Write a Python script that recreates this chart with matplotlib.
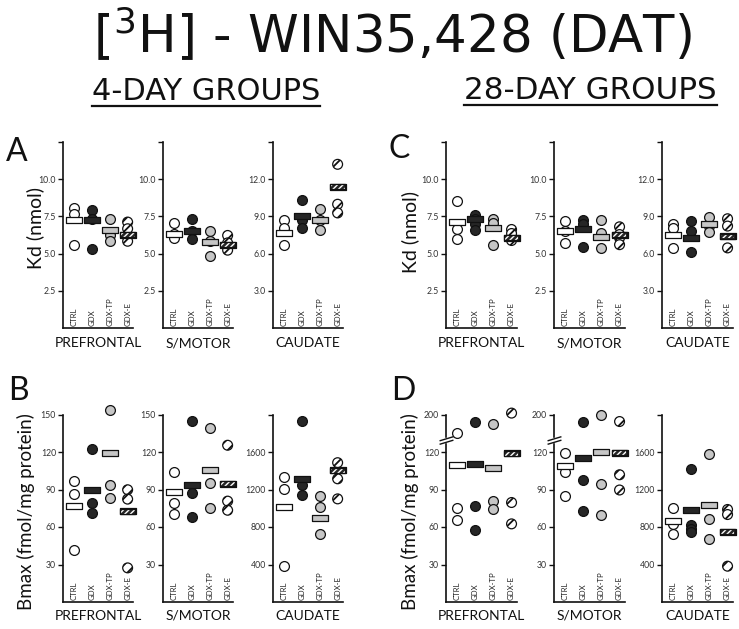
import numpy as np
import matplotlib
matplotlib.use('Agg')
import matplotlib.pyplot as plt
from matplotlib.path import Path
from matplotlib.lines import Line2D
import matplotlib.transforms as mtrans

# ---------------- data ----------------
groups = ['CTRL', 'GDX', 'GDX-TP', 'GDX-E']
regions = ['PREFRONTAL', 'S/MOTOR', 'CAUDATE']

# Panel A: Kd (nmol), 4-day groups
kd4_pref_pts = [[8.09, 7.64, 5.60], [7.90, 7.30, 5.30], [7.30, 6.28, 5.83], [7.12, 6.67, 5.83]]
kd4_pref_mean = [7.25, 7.25, 6.58, 6.28]
kd4_smot_pts = [[7.07, 6.30, 6.06], [7.30, 6.50, 5.95], [6.50, 5.83, 4.86], [6.22, 5.72, 5.23]]
kd4_smot_mean = [6.33, 6.55, 5.77, 5.60]
kd4_caud_pts = [[8.70, 8.10, 6.68], [10.30, 8.70, 8.10], [9.60, 8.70, 7.90], [13.20, 9.98, 9.28]]
kd4_caud_mean = [7.68, 9.05, 8.70, 11.40]

# Panel C: Kd (nmol), 28-day groups
kd28_pref_pts = [[8.54, 6.67, 5.99], [7.57, 7.34, 6.96, 6.58], [7.34, 7.07, 5.60], [6.62, 6.35, 5.88]]
kd28_pref_mean = [7.14, 7.30, 6.73, 6.06]
kd28_smot_pts = [[7.18, 6.50, 5.72], [7.25, 6.96, 5.45], [7.25, 6.40, 5.38], [6.80, 6.28, 6.06, 5.60]]
kd28_smot_mean = [6.55, 6.62, 6.13, 6.28]
kd28_caud_pts = [[8.40, 8.08, 6.46], [8.62, 7.81, 6.11], [8.97, 8.22, 7.73], [8.81, 8.22, 6.46]]
kd28_caud_mean = [7.46, 7.22, 8.35, 7.41]

# Panel B: Bmax (fmol/mg protein), 4-day groups
bm4_pref_pts = [[96.5, 86.6, 41.3], [122.7, 79.0, 71.5], [154.0, 93.6, 83.6], [89.8, 82.3, 27.3]]
bm4_pref_mean = [76.9, 89.3, 119.5, 72.6]
bm4_smot_pts = [[104.3, 79.3, 70.4], [145.0, 86.9, 68.0], [139.5, 95.3, 75.3], [125.4, 80.7, 73.4]]
bm4_smot_mean = [88.0, 93.7, 105.6, 94.8]
bm4_caud_pts = [[1332, 1207, 379], [1932, 1243, 1143], [1129, 1011, 725], [1486, 1314, 1100]]
bm4_caud_mean = [1018, 1307, 896, 1404]

# Panel D: Bmax (fmol/mg protein), 28-day groups
bm28_pref_pts = [[160, 75.3, 65.8], [184, 76.9, 57.9], [180, 80.7, 74.2], [203, 79.6, 62.5]]
bm28_pref_mean = [109.7, 110.5, 107.0, 118.9]
bm28_smot_pts = [[119.5, 104.0, 84.8], [183, 97.8, 72.6], [198, 94.3, 69.3], [185, 101.8, 89.6]]
bm28_smot_mean = [108.6, 114.9, 120.3, 119.5]
bm28_caud_pts = [[998, 837, 729], [1417, 826, 783, 747], [1583, 890, 675], [987, 933, 382]]
bm28_caud_mean = [866, 981, 1034, 747]

kd_ticks = [2.5, 5.0, 7.5, 10.0, 12.5]
kd_ticklabels = ['2.5', '5.0', '7.5', '10.0', '']
kdc_ticks = [3.0, 6.0, 9.0, 12.0, 15.0]
kdc_ticklabels = ['3.0', '6.0', '9.0', '12.0', '']
bm_ticks = [30, 60, 90, 120, 150]
bm_ticklabels = ['30', '60', '90', '120', '150']
bmb_ticks = [30, 60, 90, 120, 200]
bmb_ticklabels = ['30', '60', '90', '120', '200']
bmc_ticks = [400, 800, 1200, 1600, 2000]
bmc_ticklabels = ['400', '800', '1200', '1600', '']

# ---------------- style ----------------
plt.rcParams['font.family'] = ['Lato', 'DejaVu Sans']
plt.rcParams['hatch.linewidth'] = 1.3
plt.rcParams['hatch.color'] = 'black'

W, H = 739, 629
fig = plt.figure(figsize=(W / 100, H / 100), dpi=100)
fig.patch.set_facecolor('white')

face = {'CTRL': 'white', 'GDX': '#262626', 'GDX-TP': '#c6c6c6', 'GDX-E': 'white'}
bar_face = {'CTRL': 'white', 'GDX': '#262626', 'GDX-TP': '#c6c6c6', 'GDX-E': '#262626'}
pt_hatch = {'GDX-E': '///'}
bar_marker = Path([(-1.5, -0.5), (1.5, -0.5), (1.5, 0.5), (-1.5, 0.5), (-1.5, -0.5)],
                  [Path.MOVETO, Path.LINETO, Path.LINETO, Path.LINETO, Path.CLOSEPOLY])
break_marker = Path([(-1, -0.55), (1, 0.05), (-1, -0.05), (1, 0.55)],
                    [Path.MOVETO, Path.LINETO, Path.MOVETO, Path.LINETO])

K = 0.375


def fwd(y):
    y = np.asarray(y, dtype=float)
    return np.where(y <= 120, y, 120 + (y - 120) * K)


def inv(u):
    u = np.asarray(u, dtype=float)
    return np.where(u <= 120, u, 120 + (u - 120) / K)


def make_ax(x0, x1, ytop, ybot):
    return fig.add_axes([x0 / W, 1 - ybot / H, (x1 - x0) / W, (ybot - ytop) / H])


def draw_panel(ax, pts_list, means, ylim, ticks, ticklabels, broken=False):
    if broken:
        ax.set_yscale('function', functions=(fwd, inv))
    ax.set_xlim(-0.61, 3.30)
    ax.set_ylim(*ylim)
    for sp in ['top', 'right']:
        ax.spines[sp].set_visible(False)
    for sp in ['left', 'bottom']:
        ax.spines[sp].set_linewidth(1.2)
        ax.spines[sp].set_color('#111111')
    ax.set_xticks([])
    ax.set_yticks(ticks)
    ax.set_yticklabels(ticklabels)
    ax.yaxis.set_minor_locator(matplotlib.ticker.NullLocator())
    ax.tick_params(axis='y', direction='out', length=3.5, width=1.0, pad=1.5,
                   labelsize=6.3, labelcolor='#333333', color='#111111')
    ax.patch.set_alpha(0)
    for i, g in enumerate(groups):
        p = pts_list[i]
        ax.scatter([i] * len(p), p, s=50, marker='o', facecolor=face[g],
                   edgecolor='#111111', linewidths=0.9, hatch=pt_hatch.get(g),
                   clip_on=False, zorder=3)
        ax.scatter([i], [means[i]], s=118, marker=bar_marker, facecolor=bar_face[g],
                   edgecolor='#111111', linewidths=0.9, clip_on=False, zorder=4)
        if g == 'GDX-E':
            with plt.rc_context({'hatch.color': 'white', 'hatch.linewidth': 1.0}):
                ax.scatter([i], [means[i]], s=100, marker=bar_marker, facecolor='none',
                           edgecolor='white', linewidths=0, hatch='//////',
                           clip_on=False, zorder=5)
            ax.scatter([i], [means[i]], s=118, marker=bar_marker, facecolor='none',
                       edgecolor='#111111', linewidths=0.9, clip_on=False, zorder=6)
        ax.text(i, 0.01, g, transform=mtrans.blended_transform_factory(ax.transData, ax.transAxes),
                rotation=90, ha='center', va='bottom', fontsize=5.6, color='#222222')
    if broken:
        tr = mtrans.blended_transform_factory(ax.transAxes, ax.transData)
        ax.plot([0], [145], marker='s', markersize=2.6, color='white', mec='white',
                transform=tr, clip_on=False, zorder=5)
        ax.plot([0], [145], marker=break_marker, markersize=10, color='#111111',
                mew=1.0, fillstyle='none', transform=tr, clip_on=False, zorder=6)


left_x = [(63, 133), (163, 233), (273, 343)]
right_x = [(446, 517), (554, 625), (662, 733)]
rowA = (142, 328)
rowB = (414.5, 602)

pA = [(kd4_pref_pts, kd4_pref_mean, (0, 12.5), kd_ticks, kd_ticklabels),
      (kd4_smot_pts, kd4_smot_mean, (0, 12.5), kd_ticks, kd_ticklabels),
      (kd4_caud_pts, kd4_caud_mean, (0, 15), kdc_ticks, kdc_ticklabels)]
pC = [(kd28_pref_pts, kd28_pref_mean, (0, 12.5), kd_ticks, kd_ticklabels),
      (kd28_smot_pts, kd28_smot_mean, (0, 12.5), kd_ticks, kd_ticklabels),
      (kd28_caud_pts, kd28_caud_mean, (0, 15), kdc_ticks, kdc_ticklabels)]
pB = [(bm4_pref_pts, bm4_pref_mean, (0, 150), bm_ticks, bm_ticklabels),
      (bm4_smot_pts, bm4_smot_mean, (0, 150), bm_ticks, bm_ticklabels),
      (bm4_caud_pts, bm4_caud_mean, (0, 2000), bmc_ticks, bmc_ticklabels)]
pD = [(bm28_pref_pts, bm28_pref_mean, (0, 200), bmb_ticks, bmb_ticklabels, True),
      (bm28_smot_pts, bm28_smot_mean, (0, 200), bmb_ticks, bmb_ticklabels, True),
      (bm28_caud_pts, bm28_caud_mean, (0, 2000), bmc_ticks, bmc_ticklabels, False)]

for xs, row, specs, lab_y in [(left_x, rowA, pA, 343), (right_x, rowA, pC, 343),
                              (left_x, rowB, pB, 616), (right_x, rowB, pD, 616)]:
    for (x0, x1), spec, reg in zip(xs, specs, regions):
        ax = make_ax(x0, x1, row[0], row[1])
        draw_panel(ax, *spec)
        fig.text(((x0 + x1) / 2) / W, 1 - lab_y / H, reg, ha='center', va='center',
                 fontsize=10, color='#111111')

# panel letters
for letter, x, yb in [('A', 6, 161), ('B', 8, 400), ('C', 389, 158), ('D', 391, 400)]:
    fig.text(x / W, 1 - yb / H, letter, ha='left', va='baseline', fontsize=23, color='#111111')

# axis labels
for txt, x, yc, fs in [('Kd (nmol)', 35, 228, 14), ('Kd (nmol)', 410, 232, 14),
                       ('Bmax (fmol/mg protein)', 26, 512, 13.5),
                       ('Bmax (fmol/mg protein)', 410, 512, 13.5)]:
    fig.text(x / W, 1 - yc / H, txt, rotation=90, ha='center', va='center',
             fontsize=fs, color='#111111')

# title and group headers (fitted to the reference widths)
hdr = dict(family='DejaVu Sans', color='#111111')
title = fig.text(93 / W, 1 - 53 / H, r'[$^{\mathregular{3}}$H] - WIN35,428 (DAT)',
                 ha='left', va='baseline', fontsize=34, **hdr)
sub1 = fig.text(92 / W, 1 - 100 / H, '4-DAY GROUPS', ha='left', va='baseline',
                fontsize=17, **hdr)
sub2 = fig.text(464 / W, 1 - 99 / H, '28-DAY GROUPS', ha='left', va='baseline',
                fontsize=17, **hdr)

fig.canvas.draw()
r = fig.canvas.get_renderer()
for t, target in [(title, 599), (sub1, 229), (sub2, 253)]:
    w = t.get_window_extent(r).width
    t.set_fontsize(t.get_fontsize() * target / w)
fig.canvas.draw()
for t, yl in [(sub1, 106), (sub2, 105)]:
    bb = t.get_window_extent(r)
    fig.add_artist(Line2D([bb.x0 / W, bb.x1 / W], [1 - yl / H, 1 - yl / H],
                          transform=fig.transFigure, color='#111111', lw=1.6))

fig.savefig('out.png', dpi=100, facecolor='white')
